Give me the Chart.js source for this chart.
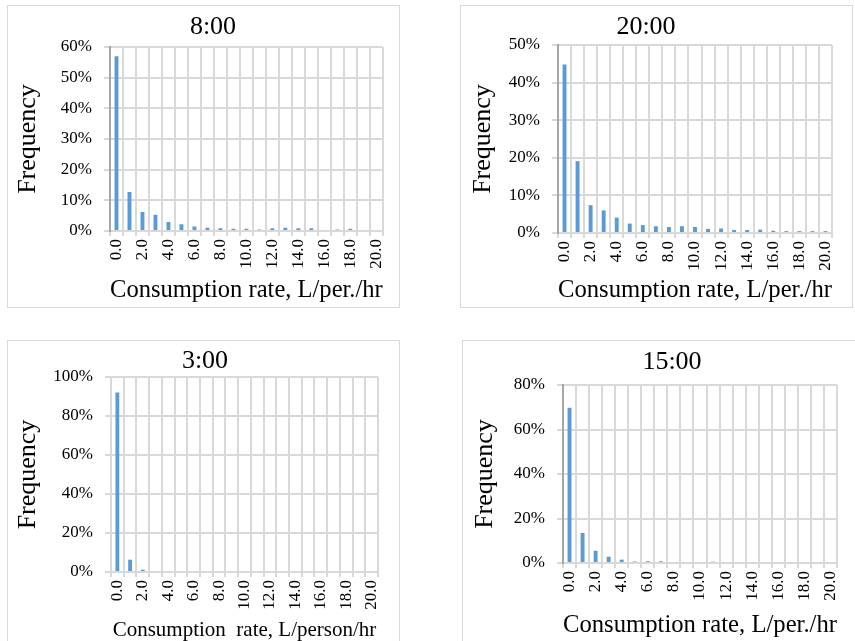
<!DOCTYPE html>
<html>
<head>
<meta charset="utf-8">
<script src="https://cdn.jsdelivr.net/npm/chart.js@4.4.1/dist/chart.umd.min.js"></script>
<style>
html, body { margin: 0; padding: 0; background: #fff; overflow: hidden; width: 855px; height: 641px; }
.box { position: absolute; border: 1.5px solid #d9d9d9; box-sizing: border-box; }
canvas { position: absolute; }
</style>
</head>
<body>
<div class="box" style="left:7px;top:5px;width:393px;height:303px"></div>
<div class="box" style="left:460px;top:5px;width:393px;height:303px"></div>
<div class="box" style="left:7px;top:340px;width:393px;height:320px"></div>
<div class="box" style="left:462px;top:340px;width:400px;height:320px"></div>
<canvas id="c8" width="393" height="303" style="left:7px;top:5px"></canvas>
<canvas id="c20" width="393" height="303" style="left:460px;top:5px"></canvas>
<canvas id="c3" width="393" height="305" style="left:7px;top:340px"></canvas>
<canvas id="c15" width="393" height="305" style="left:462px;top:340px"></canvas>
<script>
// consumption rate bins, L/person/hr
const rateLabels = ['0.0','1.0','2.0','3.0','4.0','5.0','6.0','7.0','8.0','9.0','10.0',
  '11.0','12.0','13.0','14.0','15.0','16.0','17.0','18.0','19.0','20.0']

// frequency in %
const freq8 = [57.0, 12.7, 6.2, 5.3, 2.9, 2.2, 1.5, 1.1, 0.9, 0.7, 0.7, 0.5, 0.9, 1.1, 0.9, 0.9, 0, 0.5, 0.7, 0, 0]
const freq20 = [44.8, 19.1, 7.4, 6.0, 4.1, 2.5, 2.1, 1.8, 1.6, 1.8, 1.6, 1.1, 1.2, 0.8, 0.8, 0.9, 0.6, 0.5, 0.5, 0.5, 0.5]
const freq3 = [92.1, 6.3, 1.2, 0, 0, 0, 0, 0, 0, 0, 0, 0, 0, 0, 0, 0, 0, 0, 0, 0, 0]
const freq15 = [69.8, 13.5, 5.5, 2.8, 1.5, 0.7, 0.8, 0.8, 0, 0, 0, 0.6, 0, 0, 0, 0, 0, 0, 0, 0, 0]

const serif = "'Liberation Serif', 'Times New Roman', serif"
const grey = '#d9d9d9'

function drawPanel(id, title, values, yMax, yStep, xTitle, xTitleSize, lay) {
    new Chart(document.getElementById(id), {
        type: 'bar',
        data: {
            labels: rateLabels,
            datasets: [{
                data: values,
                backgroundColor: '#5b9bd5',
                barPercentage: 0.3,
                categoryPercentage: 1
            }]
        },
        options: {
            responsive: false,
            animation: false,
            layout: { padding: { left: lay.pl, right: lay.pr, top: 0, bottom: 0 } },
            plugins: {
                legend: { display: false },
                tooltip: { enabled: false },
                title: {
                    display: true, text: title, color: '#000',
                    font: { family: serif, size: 26, weight: 'normal' },
                    padding: { top: lay.tt, bottom: lay.tb }
                }
            },
            scales: {
                x: {
                    offset: true,
                    grid: { offset: true, color: grey, lineWidth: 2, tickLength: 5 },
                    border: { color: grey, width: 2 },
                    ticks: {
                        autoSkip: false, minRotation: 90, maxRotation: 90, padding: 3,
                        color: '#000', font: { family: serif, size: 17 },
                        callback: (v, i) => i % 2 === 0 ? rateLabels[i] : ''
                    },
                    title: {
                        display: true, text: xTitle, color: '#000',
                        font: { family: serif, size: xTitleSize },
                        padding: { top: 0, bottom: lay.xb }
                    },
                    afterFit: (s) => { s.height = lay.xh }
                },
                y: {
                    min: 0, max: yMax,
                    grid: { color: grey, lineWidth: 2, tickLength: 6 },
                    border: { color: lay.axis, width: 2 },
                    ticks: {
                        stepSize: yStep, padding: 12, color: '#000',
                        font: { family: serif, size: 17 },
                        callback: (v) => v + '%'
                    },
                    title: {
                        display: true, text: 'Frequency', color: '#000',
                        font: { family: serif, size: 26 },
                        padding: { top: lay.yt, bottom: 0 }
                    },
                    afterFit: (s) => { s.width = lay.yw }
                }
            }
        }
    })
}

drawPanel('c8', '8:00', freq8, 60, 10, 'Consumption rate, L/per./hr', 26,
    { pl: 32, pr: 13, yw: 71, yt: -26.6, tt: 6.4, tb: 4.4, xh: 77, xb: 2.4, axis: '#a6a6a6' })
drawPanel('c20', '20:00', freq20, 50, 10, 'Consumption rate, L/per./hr', 26,
    { pl: 0, pr: 21, yw: 98, yt: 7.4, tt: 6.4, tb: 2.4, xh: 75, xb: 2.4, axis: '#a6a6a6' })
drawPanel('c3', '3:00', freq3, 100, 20, 'Consumption  rate, L/person/hr', 21,
    { pl: 25, pr: 22, yw: 79, yt: -19.6, tt: 5.8, tb: 0, xh: 73, xb: 2.4, axis: grey })
drawPanel('c15', '15:00', freq15, 80, 20, 'Consumption rate, L/per./hr', 26,
    { pl: 45, pr: 18, yw: 56, yt: -37.6, tt: 6.4, tb: 7.4, xh: 82, xb: 4.4, axis: '#a6a6a6' })
</script>
</body>
</html>
